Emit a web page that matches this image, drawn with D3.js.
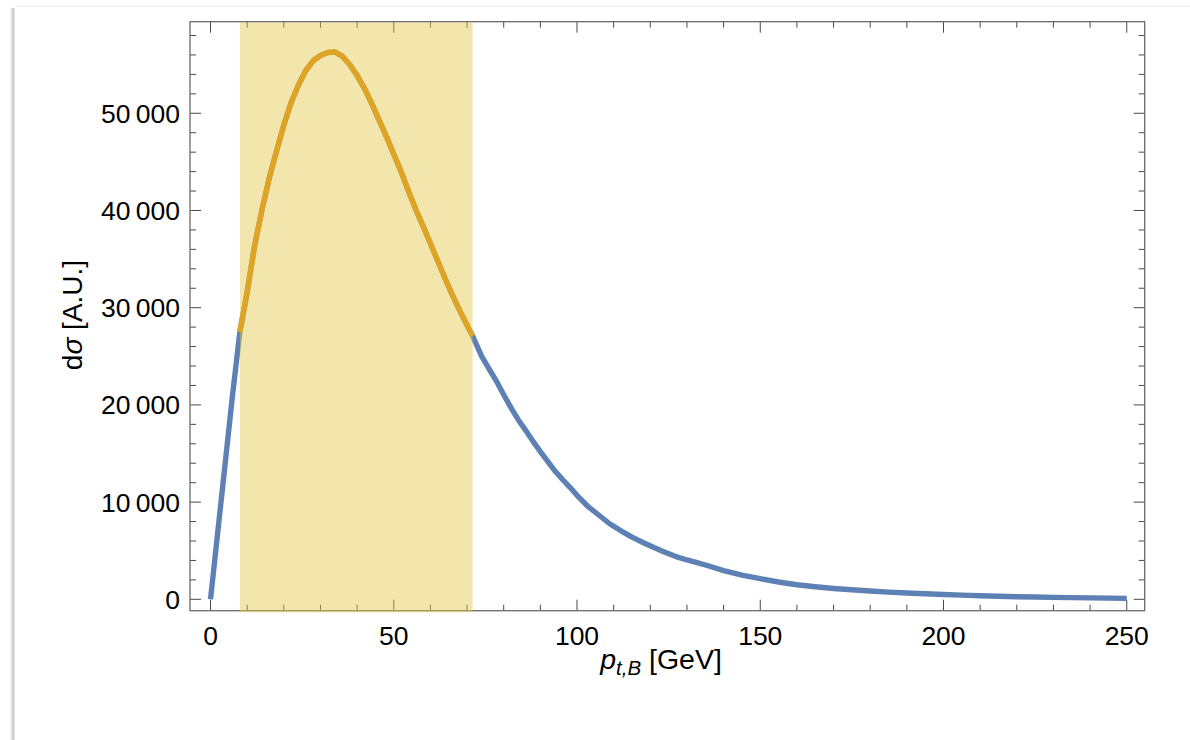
<!DOCTYPE html>
<html>
<head>
<meta charset="utf-8">
<script src="https://cdn.jsdelivr.net/npm/d3@7"></script>
<style>
  html, body { margin: 0; padding: 0; background: #ffffff; }
  svg { display: block; }
  text { font-family: "Liberation Sans", Arial, Helvetica, sans-serif; fill: #000; }
</style>
</head>
<body>
<svg id="chart" width="1190" height="740"></svg>
<script>
// Transverse momentum of B (GeV) and differential cross section (arbitrary units)
const ptValues = [0, 2, 4, 6, 8, 10, 12, 14, 16, 18, 20, 22, 24, 26, 28, 30, 32, 34, 36, 38,
  40, 42, 44, 46, 48, 50, 52, 54, 56, 58, 60, 62, 64, 66, 68, 70, 71.5, 74, 76, 78,
  80, 82, 84, 86, 88, 90, 92, 94, 96, 98, 100, 103, 106, 109, 112, 115, 118, 121, 124, 127,
  130, 133, 136, 140, 145, 150, 155, 160, 165, 170, 175, 180, 185, 190, 195, 200, 205, 210, 215, 220,
  225, 230, 235, 240, 245, 250];
const sigmaValues = [0, 7000, 14000, 21000, 27500, 31600, 36300, 40000, 43300, 46100, 48800, 51100, 52900, 54400, 55400, 55950, 56250, 56300, 55850, 55000,
  53900, 52550, 51000, 49300, 47600, 45800, 44000, 42000, 40100, 38400, 36600, 34800, 33000, 31300, 29700, 28200, 27100, 25000, 23700, 22450,
  21050, 19700, 18450, 17380, 16250, 15200, 14200, 13200, 12350, 11550, 10700, 9550, 8650, 7750, 7050, 6400, 5850, 5330, 4850, 4400,
  4050, 3750, 3430, 2950, 2480, 2120, 1780, 1500, 1290, 1120, 980, 860, 745, 650, 570, 500, 430, 370, 315, 270,
  235, 200, 170, 145, 120, 100];

// Highlighted p_t window
const windowRange = [8, 71.5];

// Tick values
const xMajorTicks = [0, 50, 100, 150, 200, 250];
const xMinorTicks = d3.range(0, 251, 10).filter(v => v % 50 !== 0);
const yMajorTicks = [0, 10000, 20000, 30000, 40000, 50000];
const yMinorTicks = d3.range(0, 59001, 2000).filter(v => v % 10000 !== 0);
const yTickLabels = ["0", "10\u2009000", "20\u2009000", "30\u2009000", "40\u2009000", "50\u2009000"];

const points = ptValues.map((p, i) => ({ x: p, y: sigmaValues[i] }));

const svg = d3.select("#chart");

// notebook cell frame: faint top rule and left shadow
const defs = svg.append("defs");
const grad = defs.append("linearGradient").attr("id", "shadow").attr("x1", 0).attr("x2", 1);
grad.append("stop").attr("offset", 0).attr("stop-color", "#ffffff");
grad.append("stop").attr("offset", 0.6).attr("stop-color", "#c8c8c8");
grad.append("stop").attr("offset", 1).attr("stop-color", "#e6e6e6");
svg.append("rect").attr("x", 10).attr("y", 8).attr("width", 5).attr("height", 732).attr("fill", "url(#shadow)");
svg.append("rect").attr("x", 15).attr("y", 5).attr("width", 1175).attr("height", 2).attr("fill", "#f4f4f4");

const frame = { left: 190, right: 1144.7, top: 21.7, bottom: 610.7 };

const x = d3.scaleLinear().domain([-5.6, 254.9]).range([frame.left, frame.right]);
const y = d3.scaleLinear().domain([-1170, 59420]).range([frame.bottom, frame.top]);

const tickColor = "#4a4a4a";
const g = svg.append("g");

// ticks on all four sides
function drawTicks(vals, len, isX) {
  vals.forEach(v => {
    if (isX) {
      const px = x(v);
      g.append("line").attr("x1", px).attr("x2", px).attr("y1", frame.bottom).attr("y2", frame.bottom - len)
        .attr("stroke", tickColor).attr("stroke-width", 1);
      g.append("line").attr("x1", px).attr("x2", px).attr("y1", frame.top).attr("y2", frame.top + len)
        .attr("stroke", tickColor).attr("stroke-width", 1);
    } else {
      const py = y(v);
      g.append("line").attr("x1", frame.left).attr("x2", frame.left + len).attr("y1", py).attr("y2", py)
        .attr("stroke", tickColor).attr("stroke-width", 1);
      g.append("line").attr("x1", frame.right).attr("x2", frame.right - len).attr("y1", py).attr("y2", py)
        .attr("stroke", tickColor).attr("stroke-width", 1);
    }
  });
}
drawTicks(xMajorTicks, 11, true);
drawTicks(xMinorTicks, 6, true);
drawTicks(yMajorTicks, 11, false);
drawTicks(yMinorTicks, 6, false);

// frame
g.append("rect")
  .attr("x", frame.left).attr("y", frame.top)
  .attr("width", frame.right - frame.left).attr("height", frame.bottom - frame.top)
  .attr("fill", "none").attr("stroke", "#6a6a6a").attr("stroke-width", 1.3);

// tick labels
g.selectAll(".xlab").data(xMajorTicks).join("text")
  .attr("x", d => x(d)).attr("y", 645)
  .attr("text-anchor", "middle").attr("font-size", 26.5)
  .text(d => String(d));
g.selectAll(".ylab").data(yMajorTicks).join("text")
  .attr("x", 180).attr("y", d => y(d) + 9.5)
  .attr("text-anchor", "end").attr("font-size", 26.5)
  .text((d, i) => yTickLabels[i]);

const line = d3.line().x(d => x(d.x)).y(d => y(d.y));

// full distribution
g.append("path").datum(points)
  .attr("d", line).attr("fill", "none")
  .attr("stroke", "#5e81b5").attr("stroke-width", 5.4)
  .attr("stroke-linejoin", "round").attr("stroke-linecap", "butt");

// highlighted window
g.append("rect")
  .attr("x", x(windowRange[0])).attr("width", x(windowRange[1]) - x(windowRange[0]))
  .attr("y", y(59330)).attr("height", y(-1340) - y(59330))
  .attr("fill", "#e2c84a").attr("fill-opacity", 0.45);

// distribution inside the window
g.append("path").datum(points.filter(d => d.x >= windowRange[0] && d.x <= windowRange[1]))
  .attr("d", line).attr("fill", "none")
  .attr("stroke", "#e0a424").attr("stroke-width", 5.4)
  .attr("stroke-linejoin", "round").attr("stroke-linecap", "butt");

// axis titles
const xt = svg.append("text").attr("x", 661).attr("y", 669)
  .attr("text-anchor", "middle").attr("font-size", 28.5);
xt.append("tspan").attr("font-style", "italic").text("p");
xt.append("tspan").attr("font-style", "italic").attr("font-size", 20.5).attr("dy", 6).text("t,B");
xt.append("tspan").attr("dy", -6).text(" [GeV]");

const yt = svg.append("text")
  .attr("transform", "translate(82,315) rotate(-90)")
  .attr("text-anchor", "middle").attr("font-size", 28);
yt.append("tspan").text("d");
yt.append("tspan").attr("font-style", "italic").text("\u03c3");
yt.append("tspan").text(" [A.U.]");
</script>
</body>
</html>
